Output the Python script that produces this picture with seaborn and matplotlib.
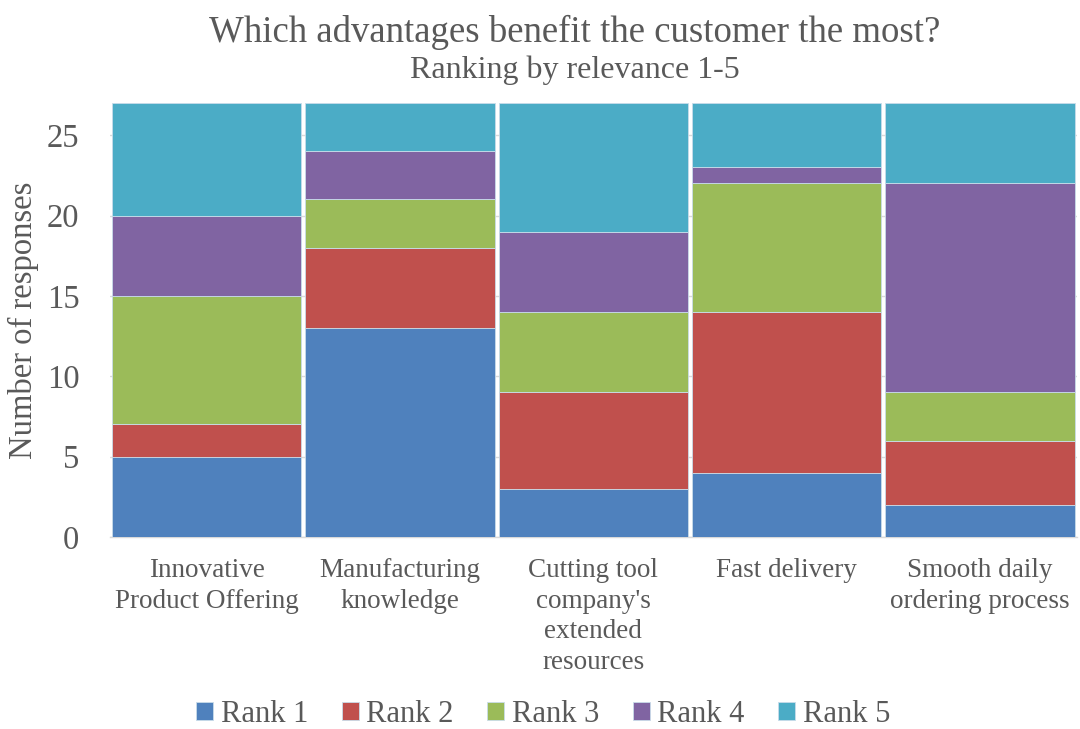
import matplotlib
matplotlib.use("Agg")
import matplotlib.pyplot as plt
import seaborn as sns
import pandas as pd
import numpy as np

categories = ["Innovative\nProduct Offering", "Manufacturing\nknowledge",
              "Cutting tool\ncompany's\nextended\nresources", "Fast delivery",
              "Smooth daily\nordering process"]
rank_names = ["Rank 1", "Rank 2", "Rank 3", "Rank 4", "Rank 5"]
rank1 = [5, 13, 3, 4, 2]
rank2 = [2, 5, 6, 10, 4]
rank3 = [8, 3, 5, 8, 3]
rank4 = [5, 3, 5, 1, 13]
rank5 = [7, 3, 8, 4, 5]
colors = ["#4F81BD", "#C0504D", "#9BBB59", "#8064A2", "#4BACC6"]

sns.set_theme(style="white")
plt.rcParams['font.family'] = ['Liberation Serif', 'DejaVu Serif']
text_color = "#595959"

fig = plt.figure(figsize=(10.8, 7.29), dpi=100)
ax = fig.add_axes([0.1019, 0.2634, 0.8951, 0.5953])

series = [rank1, rank2, rank3, rank4, rank5]
bottom = np.zeros(len(categories))
for name, vals, col in zip(rank_names, series, colors):
    df = pd.DataFrame({"cat": categories, "val": vals})
    sns.barplot(data=df, x="cat", y="val", order=categories, bottom=bottom,
                color=col, width=0.98, edgecolor="#C9DCEA", linewidth=0.6,
                label=name, ax=ax, saturation=1, zorder=3)
    bottom = bottom + np.array(vals)

ax.set_xlim(-0.5, len(categories) - 0.5)
ax.set_ylim(0, 27)
ax.set_yticks([0, 5, 10, 15, 20, 25])
ax.yaxis.grid(True, color="#D9D9D9", linewidth=1.0, zorder=0)
ax.set_axisbelow(True)
for s in ["top", "right", "left"]:
    ax.spines[s].set_visible(False)
ax.spines["bottom"].set_color("#D9D9D9")
ax.spines["bottom"].set_linewidth(1.0)
ax.tick_params(axis="y", labelsize=23.5, colors=text_color, length=0, pad=22)
ax.tick_params(axis="x", labelsize=19.5, colors=text_color, length=0, pad=15)
for lbl in ax.get_xticklabels():
    lbl.set_verticalalignment("top")
    lbl.set_linespacing(1.3)
ax.set_xlabel("")
ax.set_ylabel("Number of responses", fontsize=23.5, color=text_color)
ax.yaxis.set_label_coords(-0.074, 0.5)

fig.text(0.532, 0.956, "Which advantages benefit the customer the most?",
         ha="center", va="center", fontsize=26.5, color=text_color)
fig.text(0.532, 0.903, "Ranking by relevance 1-5",
         ha="center", va="center", fontsize=23, color=text_color)

handles, labels = ax.get_legend_handles_labels()
leg = fig.legend(handles, labels, loc="center", bbox_to_anchor=(0.503, 0.02),
                 ncol=5, frameon=False, fontsize=22, handlelength=0.55,
                 handleheight=0.55, handletextpad=0.25, columnspacing=1.1,
                 labelcolor=text_color, borderpad=0.1)
if ax.get_legend() is not None:
    ax.get_legend().remove()

fig.savefig("out.png", dpi=100)
